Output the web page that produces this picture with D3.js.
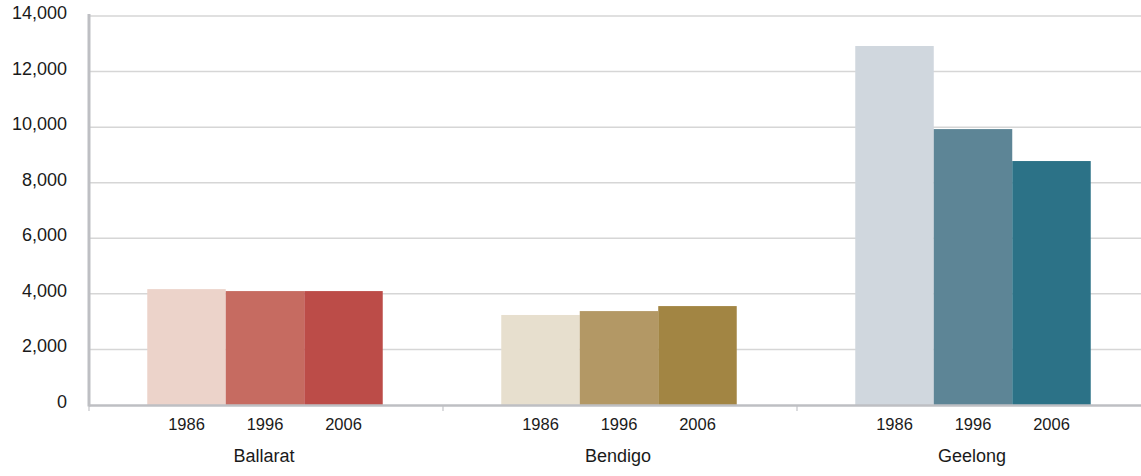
<!DOCTYPE html>
<html>
<head>
<meta charset="utf-8">
<script src="https://cdn.jsdelivr.net/npm/d3@7"></script>
<style>
  html, body { margin: 0; padding: 0; background: #fff; }
  svg { display: block; font-family: "Liberation Sans", Arial, sans-serif; }
</style>
</head>
<body>
<svg id="chart" width="1141" height="476"></svg>
<script>
// Cities and census years
const cities = ["Ballarat", "Bendigo", "Geelong"];
const years = ["1986", "1996", "2006"];

// Values per city, one per census year
const ballarat = [4170, 4100, 4100];
const bendigo = [3240, 3380, 3560];
const geelong = [12920, 9930, 8780];

// Bar colours per city, light to dark across the years
const ballaratColors = ["#ECD3CA", "#C66B61", "#BC4C48"];
const bendigoColors = ["#E7DFCE", "#B39865", "#A28543"];
const geelongColors = ["#D0D7DE", "#5D8596", "#2C7287"];

const yTicks = [0, 2000, 4000, 6000, 8000, 10000, 12000, 14000];

const seriesByCity = { Ballarat: ballarat, Bendigo: bendigo, Geelong: geelong };
const colorsByCity = { Ballarat: ballaratColors, Bendigo: bendigoColors, Geelong: geelongColors };

const svg = d3.select("#chart");
const plotLeft = 88, plotRight = 1150, plotTop = 16, plotBottom = 405;

const x0 = d3.scaleBand().domain(cities).range([plotLeft, plotRight]).padding(0);
const x1 = d3.scaleBand().domain(years).range([0, x0.bandwidth()]).paddingInner(0).paddingOuter(0.755);
const y = d3.scaleLinear().domain([0, 14000]).range([plotBottom, plotTop]);

// Horizontal gridlines
svg.append("g")
  .selectAll("line")
  .data(yTicks.filter(d => d > 0))
  .join("line")
  .attr("x1", plotLeft + 2).attr("x2", 1141)
  .attr("y1", d => y(d)).attr("y2", d => y(d))
  .attr("stroke", "#D6D6D6").attr("stroke-width", 1.5);

// Bars
const groups = svg.append("g")
  .selectAll("g")
  .data(cities)
  .join("g")
  .attr("transform", c => `translate(${x0(c)},0)`);

groups.selectAll("rect")
  .data(c => years.map((yr, i) => ({ city: c, year: yr, value: seriesByCity[c][i], color: colorsByCity[c][i] })))
  .join("rect")
  .attr("x", d => x1(d.year))
  .attr("width", x1.bandwidth())
  .attr("y", d => y(d.value))
  .attr("height", d => y(0) - y(d.value))
  .attr("fill", d => d.color);

// Year labels under each bar
groups.selectAll("text.year")
  .data(c => years)
  .join("text")
  .attr("class", "year")
  .attr("x", d => x1(d) + x1.bandwidth() / 2)
  .attr("y", 430)
  .attr("text-anchor", "middle")
  .attr("font-size", 16.5)
  .attr("fill", "#1a1a1a")
  .text(d => d);

// City labels
groups.append("text")
  .attr("x", x0.bandwidth() / 2 - 1)
  .attr("y", 462)
  .attr("text-anchor", "middle")
  .attr("font-size", 18)
  .attr("fill", "#1a1a1a")
  .text(c => c);

// Y axis tick labels
const fmt = d3.format(",");
svg.append("g")
  .selectAll("text")
  .data(yTicks)
  .join("text")
  .attr("x", 67)
  .attr("y", d => y(d) + 3)
  .attr("text-anchor", "end")
  .attr("font-size", 18)
  .attr("fill", "#1a1a1a")
  .text(d => fmt(d));

// Category separator ticks below the x axis
svg.append("g")
  .selectAll("line")
  .data(cities)
  .join("line")
  .attr("x1", c => x0(c) + 1).attr("x2", c => x0(c) + 1)
  .attr("y1", plotBottom).attr("y2", 411)
  .attr("stroke", "#C4C5C9").attr("stroke-width", 1.2);

// Axis lines
svg.append("line")
  .attr("x1", plotLeft + 1).attr("x2", 1141)
  .attr("y1", plotBottom + 0.5).attr("y2", plotBottom + 0.5)
  .attr("stroke", "#BEBFC3").attr("stroke-width", 2.5);
svg.append("line")
  .attr("x1", plotLeft + 1).attr("x2", plotLeft + 1)
  .attr("y1", 14).attr("y2", plotBottom + 1.5)
  .attr("stroke", "#BEBFC3").attr("stroke-width", 3);
</script>
</body>
</html>
